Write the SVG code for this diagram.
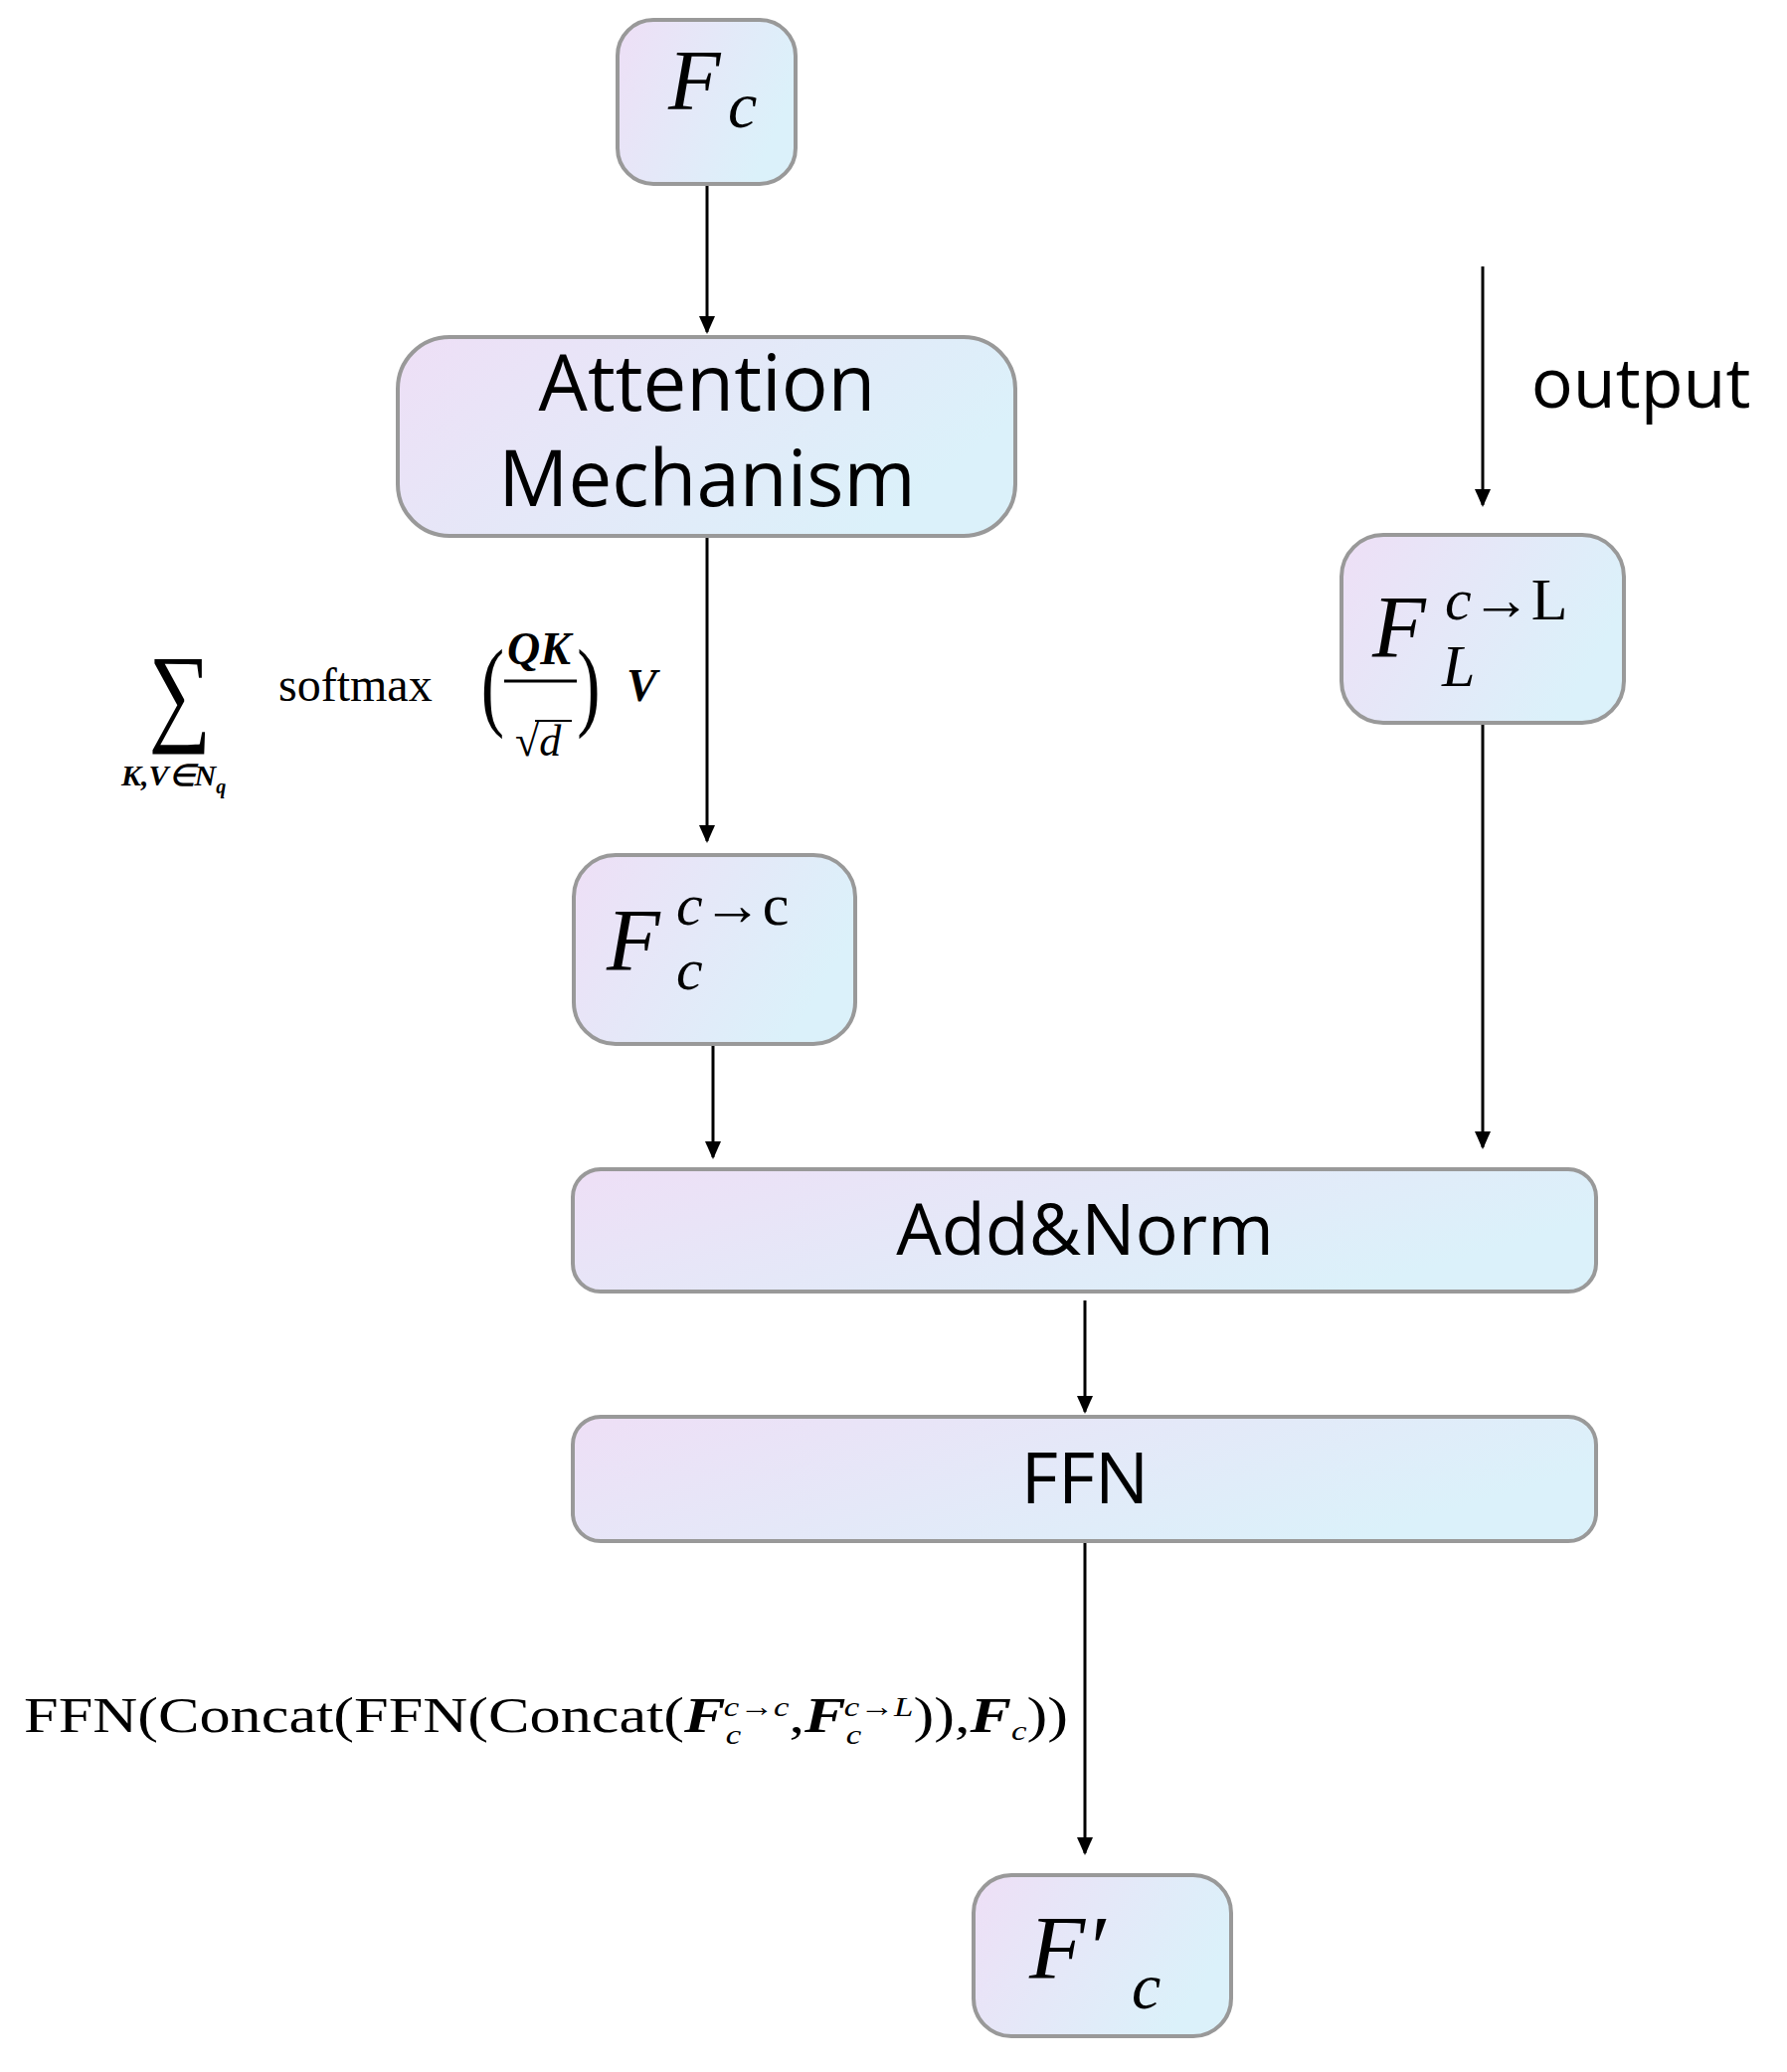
<svg xmlns="http://www.w3.org/2000/svg" width="1797" height="2084" viewBox="0 0 1797 2084">
<defs>
<linearGradient id="g" x1="0" y1="0" x2="1" y2="0.4"><stop offset="0" stop-color="#eedff6"/><stop offset="1" stop-color="#dbf1fa"/></linearGradient>
<marker id="a" markerWidth="12" markerHeight="14" refX="6" refY="13" orient="auto-start-reverse" markerUnits="userSpaceOnUse" viewBox="0 0 12 14"><path d="M0,0 L12,0 L6,14 Z" fill="#000" transform="rotate(0)"/></marker>
</defs>
<style>
.b{fill:url(#g);stroke:#999;stroke-width:4}
.s{font-family:"Open Sans","Noto Sans",sans-serif;fill:#000;text-anchor:middle}
.m{font-family:"Liberation Serif",serif;font-style:italic;fill:#000}
.r{font-family:"Liberation Serif",serif;fill:#000}
.c{stroke:#000;stroke-width:3;fill:none}
</style>
<rect width="1797" height="2084" fill="#fff"/>
<g id="connectors">
<line class="c" x1="711" y1="185" x2="711" y2="334"/><path d="M703,318 L719,318 L711,336 Z"/>
<line class="c" x1="711" y1="539" x2="711" y2="846"/><path d="M703,830 L719,830 L711,848 Z"/>
<line class="c" x1="717" y1="1050" x2="717" y2="1164"/><path d="M709,1148 L725,1148 L717,1166 Z"/>
<line class="c" x1="1491" y1="268" x2="1491" y2="508"/><path d="M1483,492 L1499,492 L1491,510 Z"/>
<line class="c" x1="1491" y1="727" x2="1491" y2="1154"/><path d="M1483,1138 L1499,1138 L1491,1156 Z"/>
<line class="c" x1="1091" y1="1308" x2="1091" y2="1420"/><path d="M1083,1404 L1099,1404 L1091,1422 Z"/>
<line class="c" x1="1091" y1="1550" x2="1091" y2="1864"/><path d="M1083,1848 L1099,1848 L1091,1866 Z"/>
</g>
<g id="fc"><rect class="b" x="621" y="20" width="179" height="165" rx="36"/>
<text class="m" x="672" y="110" font-size="86">F</text><text class="m" x="732" y="128" font-size="66">c</text></g>
<g id="attention"><rect class="b" x="400" y="339" width="621" height="200" rx="52"/>
<text class="s" x="711" y="413" font-size="78">Attention</text><text class="s" x="711" y="509" font-size="78">Mechanism</text></g>
<g id="formula1">
<text class="r" x="150" y="735" font-size="110" transform="scale(0.8,1) translate(37,0)">∑</text>
<text class="m" x="122" y="790" font-size="30" font-weight="bold">K,V∈N<tspan font-size="20" dy="8">q</tspan></text>
<text class="r" x="280" y="705" font-size="48">softmax</text>
<text class="r" x="484" y="722" font-size="100" transform="scale(0.7,1) translate(207,0)">(</text>
<text class="m" x="510" y="668" font-size="46" font-weight="bold">QK</text>
<line x1="507" y1="685" x2="580" y2="685" stroke="#000" stroke-width="3"/>
<text class="r" x="518" y="760" font-size="44">√<tspan font-style="italic">d</tspan></text>
<line x1="538" y1="725" x2="575" y2="725" stroke="#000" stroke-width="2"/>
<text class="r" x="580" y="722" font-size="100" transform="scale(0.7,1) translate(249,0)">)</text>
<text class="m" x="630" y="705" font-size="46" font-weight="bold">V</text></g>
<g id="fcc"><rect class="b" x="577" y="860" width="283" height="190" rx="42"/>
<text class="m" x="610" y="975" font-size="88">F</text><text class="m" x="680" y="995" font-size="60">c</text><text class="m" x="680" y="930" font-size="60">c<tspan font-style="normal">→c</tspan></text></g>
<g id="output-label"><text class="s" x="1650" y="410" font-size="70">output</text></g>
<g id="fl"><rect class="b" x="1349" y="538" width="284" height="189" rx="42"/>
<text class="m" x="1380" y="660" font-size="88">F</text><text class="m" x="1450" y="690" font-size="60">L</text><text class="m" x="1453" y="623" font-size="60">c<tspan font-style="normal">→L</tspan></text></g>
<g id="addnorm"><rect class="b" x="576" y="1176" width="1029" height="123" rx="28"/>
<text class="s" x="1091" y="1262" font-size="72">Add&amp;Norm</text></g>
<g id="ffn"><rect class="b" x="576" y="1425" width="1029" height="125" rx="28"/>
<text class="s" x="1091" y="1512" font-size="72">FFN</text></g>
<g id="formula2"><text class="r" x="24" y="1742" font-size="50" textLength="1050" lengthAdjust="spacingAndGlyphs">FFN(Concat(FFN(Concat(<tspan font-weight="bold" font-style="italic">F</tspan><tspan font-style="italic" font-size="28" dy="12">c</tspan><tspan font-style="italic" font-size="28" dx="-14" dy="-28">c→c</tspan><tspan dy="16">,</tspan><tspan font-weight="bold" font-style="italic">F</tspan><tspan font-style="italic" font-size="28" dy="12">c</tspan><tspan font-style="italic" font-size="28" dx="-14" dy="-28">c→L</tspan><tspan dy="16">)),</tspan><tspan font-weight="bold" font-style="italic">F</tspan><tspan font-style="italic" font-size="28" dy="8">c</tspan><tspan dy="-8">))</tspan></text></g>
<g id="fprime"><rect class="b" x="979" y="1886" width="259" height="162" rx="38"/>
<text class="m" x="1035" y="1990" font-size="92">F′</text><text class="m" x="1138" y="2020" font-size="66">c</text></g>
</svg>
